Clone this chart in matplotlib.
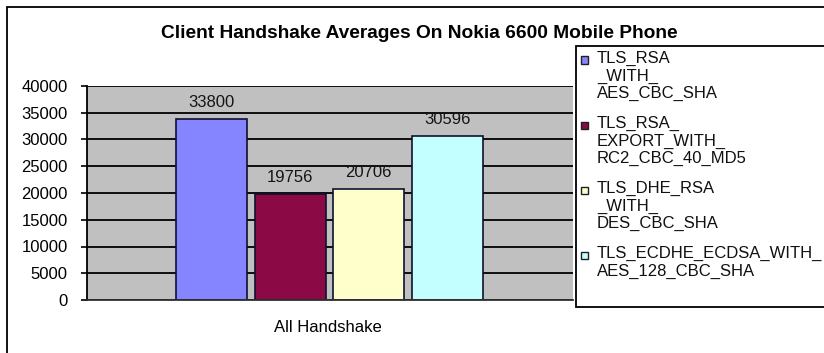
import matplotlib

matplotlib.use("Agg")
import matplotlib.pyplot as plt
import numpy as np
from matplotlib.patches import Rectangle

# data
category = "All Handshake"
suites = [
    "TLS_RSA\n_WITH_\nAES_CBC_SHA",
    "TLS_RSA_\nEXPORT_WITH_\nRC2_CBC_40_MD5",
    "TLS_DHE_RSA\n_WITH_\nDES_CBC_SHA",
    "TLS_ECDHE_ECDSA_WITH_\nAES_128_CBC_SHA",
]
averages = [33800, 19756, 20706, 30596]
colors = ["#8585FF", "#8B0A45", "#FFFFCC", "#C4FFFF"]
yticks = [0, 5000, 10000, 15000, 20000, 25000, 30000, 35000, 40000]

W, H = 824, 353
plt.rcParams["font.family"] = ["Liberation Sans", "DejaVu Sans"]
plt.rcParams["font.size"] = 12

fig = plt.figure(figsize=(W / 100, H / 100), dpi=100)
fig.patch.set_facecolor("white")


def fx(px):
    return px / W


def fy(py):
    return 1 - py / H


# outer chart border
fig.add_artist(Rectangle((fx(7), fy(360)), fx(830), 1, transform=fig.transFigure,
                         fill=False, edgecolor="black", linewidth=1.3))

ax = fig.add_axes([fx(87), fy(300), fx(573 - 87), fy(86) - fy(300)])
ax.set_facecolor("#C0C0C0")
ax.set_axisbelow(True)
ax.yaxis.grid(True, color="black", linewidth=1.3)

pos = np.arange(len(averages))
bars = ax.bar(pos, averages, width=0.91, color=colors, edgecolor="#101030",
              linewidth=1.2, zorder=2)
for x, v in zip(pos, averages):
    ax.annotate(str(v), (x, v), xytext=(0, 12), textcoords="offset points",
                ha="center", va="center", fontsize=12, color="#151515")

ax.set_xlim(-1.589, 4.602)
ax.set_ylim(0, 40000)
ax.set_yticks(yticks)
ax.set_yticklabels([str(t) for t in yticks])
ax.tick_params(axis="y", direction="out", length=4, width=1.2, pad=10, labelsize=12)
ax.set_xticks([])
for side in ("top", "right"):
    ax.spines[side].set_visible(False)
ax.spines["left"].set_linewidth(1.3)
ax.spines["bottom"].set_linewidth(1.3)
ax.spines["bottom"].set_color("#303030")

fig.text(fx(328), fy(328), category, ha="center", va="center", fontsize=12)
fig.text(fx(419), fy(33), "Client Handshake Averages On Nokia 6600 Mobile Phone",
         ha="center", va="center", fontsize=13.8, fontweight="bold")

# legend box drawn by hand so markers line up with the first text line
fig.add_artist(Rectangle((fx(576), fy(307)), fx(300), fy(46) - fy(307),
                         transform=fig.transFigure, fill=True, facecolor="white",
                         edgecolor="black", linewidth=1.3))
y_line = 60
for label, c in zip(suites, colors):
    fig.add_artist(Rectangle((fx(580.5), fy(y_line + 3.5)), fx(7), fy(0) - fy(7),
                             transform=fig.transFigure, facecolor=c,
                             edgecolor="#202020", linewidth=1.0))
    fig.text(fx(597), fy(y_line - 9), label, ha="left", va="top", fontsize=12,
             linespacing=1.2, color="#101010")
    y_line += 20 * label.count("\n") + 25

fig.savefig("out.png", dpi=100)
